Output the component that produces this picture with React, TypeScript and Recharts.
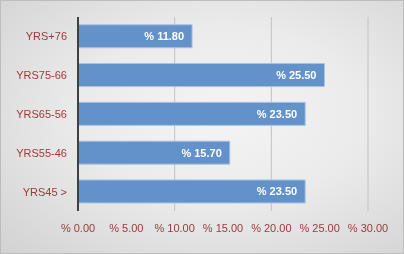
import { BarChart, Bar, XAxis, YAxis, CartesianGrid, LabelList } from "recharts";

// 연령대 (위에서 아래 순서)
const categories = ["YRS+76", "YRS75-66", "YRS65-56", "YRS55-46", "YRS45 >"];
// 비율 값 (%)
const shares = [11.8, 25.5, 23.5, 15.7, 23.5];
// x축 눈금
const xTicks = [0, 5, 10, 15, 20, 25, 30];

const data = categories.map((name, i) => ({ name, value: shares[i] }));

const pct = (v: number) => `% ${Number(v).toFixed(2)}`;

const FONT = "Arial, 'Liberation Sans', sans-serif";
const TICK_COLOR = "#9b3a3a";

export default function App() {
  return (
    <div
      style={{
        position: "fixed",
        left: 0,
        top: 0,
        width: 404,
        height: 254,
        boxSizing: "border-box",
        border: "1px solid #bdbdbd",
        background:
          "radial-gradient(ellipse at 55% 45%, #f4f4f4 0%, #ebebeb 45%, #d2d2d2 100%)",
        fontFamily: FONT,
      }}
    >
      <BarChart
        width={402}
        height={252}
        layout="vertical"
        data={data}
        margin={{ top: 16, right: 35, bottom: 12, left: -1 }}
        barCategoryGap="20%"
      >
        <CartesianGrid horizontal={false} stroke="#c2c2c2" />
        <XAxis
          type="number"
          domain={[0, 30]}
          ticks={xTicks}
          tickFormatter={pct}
          axisLine={false}
          tickLine={false}
          tickMargin={7}
          height={30}
          tick={{ fill: TICK_COLOR, fontSize: 11, fontFamily: FONT }}
        />
        <YAxis
          type="category"
          dataKey="name"
          width={78}
          tickLine={false}
          tickMargin={5}
          axisLine={{ stroke: "#404040", strokeWidth: 2 }}
          tick={{ fill: TICK_COLOR, fontSize: 11, fontFamily: FONT }}
        />
        <Bar
          dataKey="value"
          fill="#6391c9"
          stroke="#a9c3e3"
          strokeWidth={1}
          isAnimationActive={false}
        >
          <LabelList
            dataKey="value"
            position="insideRight"
            offset={8}
            formatter={(v: any) => pct(v)}
            fill="#ffffff"
            style={{ fontSize: 11, fontWeight: "bold", fontFamily: FONT }}
          />
        </Bar>
      </BarChart>
    </div>
  );
}
